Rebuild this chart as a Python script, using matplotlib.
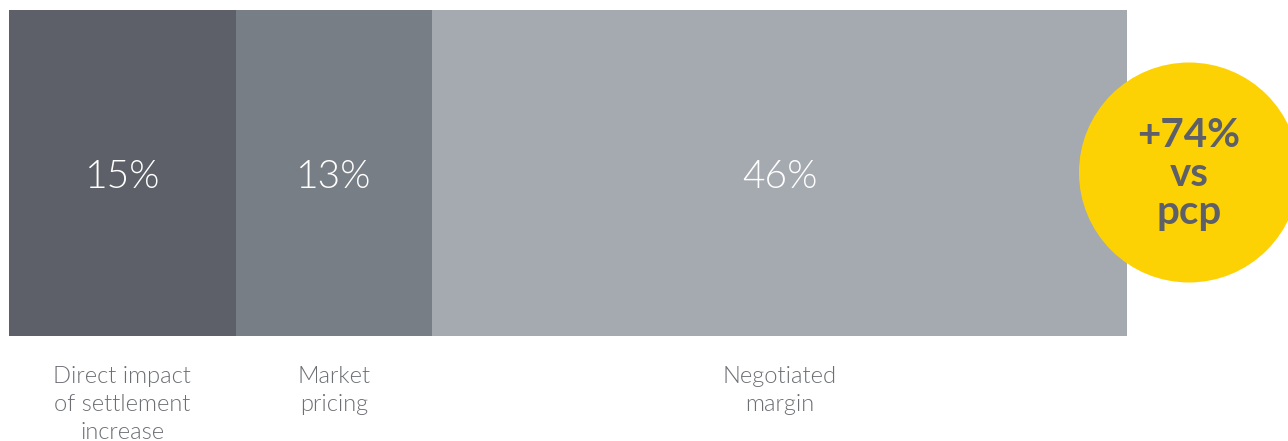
import matplotlib.pyplot as plt
from matplotlib.patches import Circle
from matplotlib.transforms import IdentityTransform

shares = [15, 13, 46]
value_labels = ["15%", "13%", "46%"]
categories = ["Direct impact\nof settlement\nincrease", "Market\npricing", "Negotiated\nmargin"]
colors = ["#5d6069", "#787e85", "#a5a9b0"]
badge_text = "+74%\nvs\npcp"

W, H = 1288, 441
fig = plt.figure(figsize=(W / 100, H / 100), dpi=100)
ax = fig.add_axes([9 / W, (H - 336) / H, 1118 / W, 326 / H])
ax.set_xlim(0, sum(shares))
ax.set_ylim(0, 1)
ax.axis("off")

left = 0
for share, lab, cat, col in zip(shares, value_labels, categories, colors):
    ax.barh(0.5, share, height=1, left=left, color=col, linewidth=0)
    mid = left + share / 2
    ax.text(mid, 0.488, lab, ha="center", va="center", color="white",
            fontsize=28, family="Lato", fontweight=300)
    ax.text(mid, -0.092, cat, ha="center", va="top", color="#6b6e73",
            fontsize=17, family="Lato", fontweight=300,
            linespacing=1.42, clip_on=False)
    left += share

# badge circle in pixel coordinates
cx, cy, r = 1189, H - 172.5, 110
fig.add_artist(Circle((cx, cy), r, transform=IdentityTransform(),
                      facecolor="#fdd205", edgecolor="none"))
fig.text(cx / W, (H - 174) / H, badge_text, ha="center", va="center",
         color="#5d6069", fontsize=29, family="Lato", fontweight="bold",
         linespacing=1.05)

fig.savefig("out.png", dpi=100)
